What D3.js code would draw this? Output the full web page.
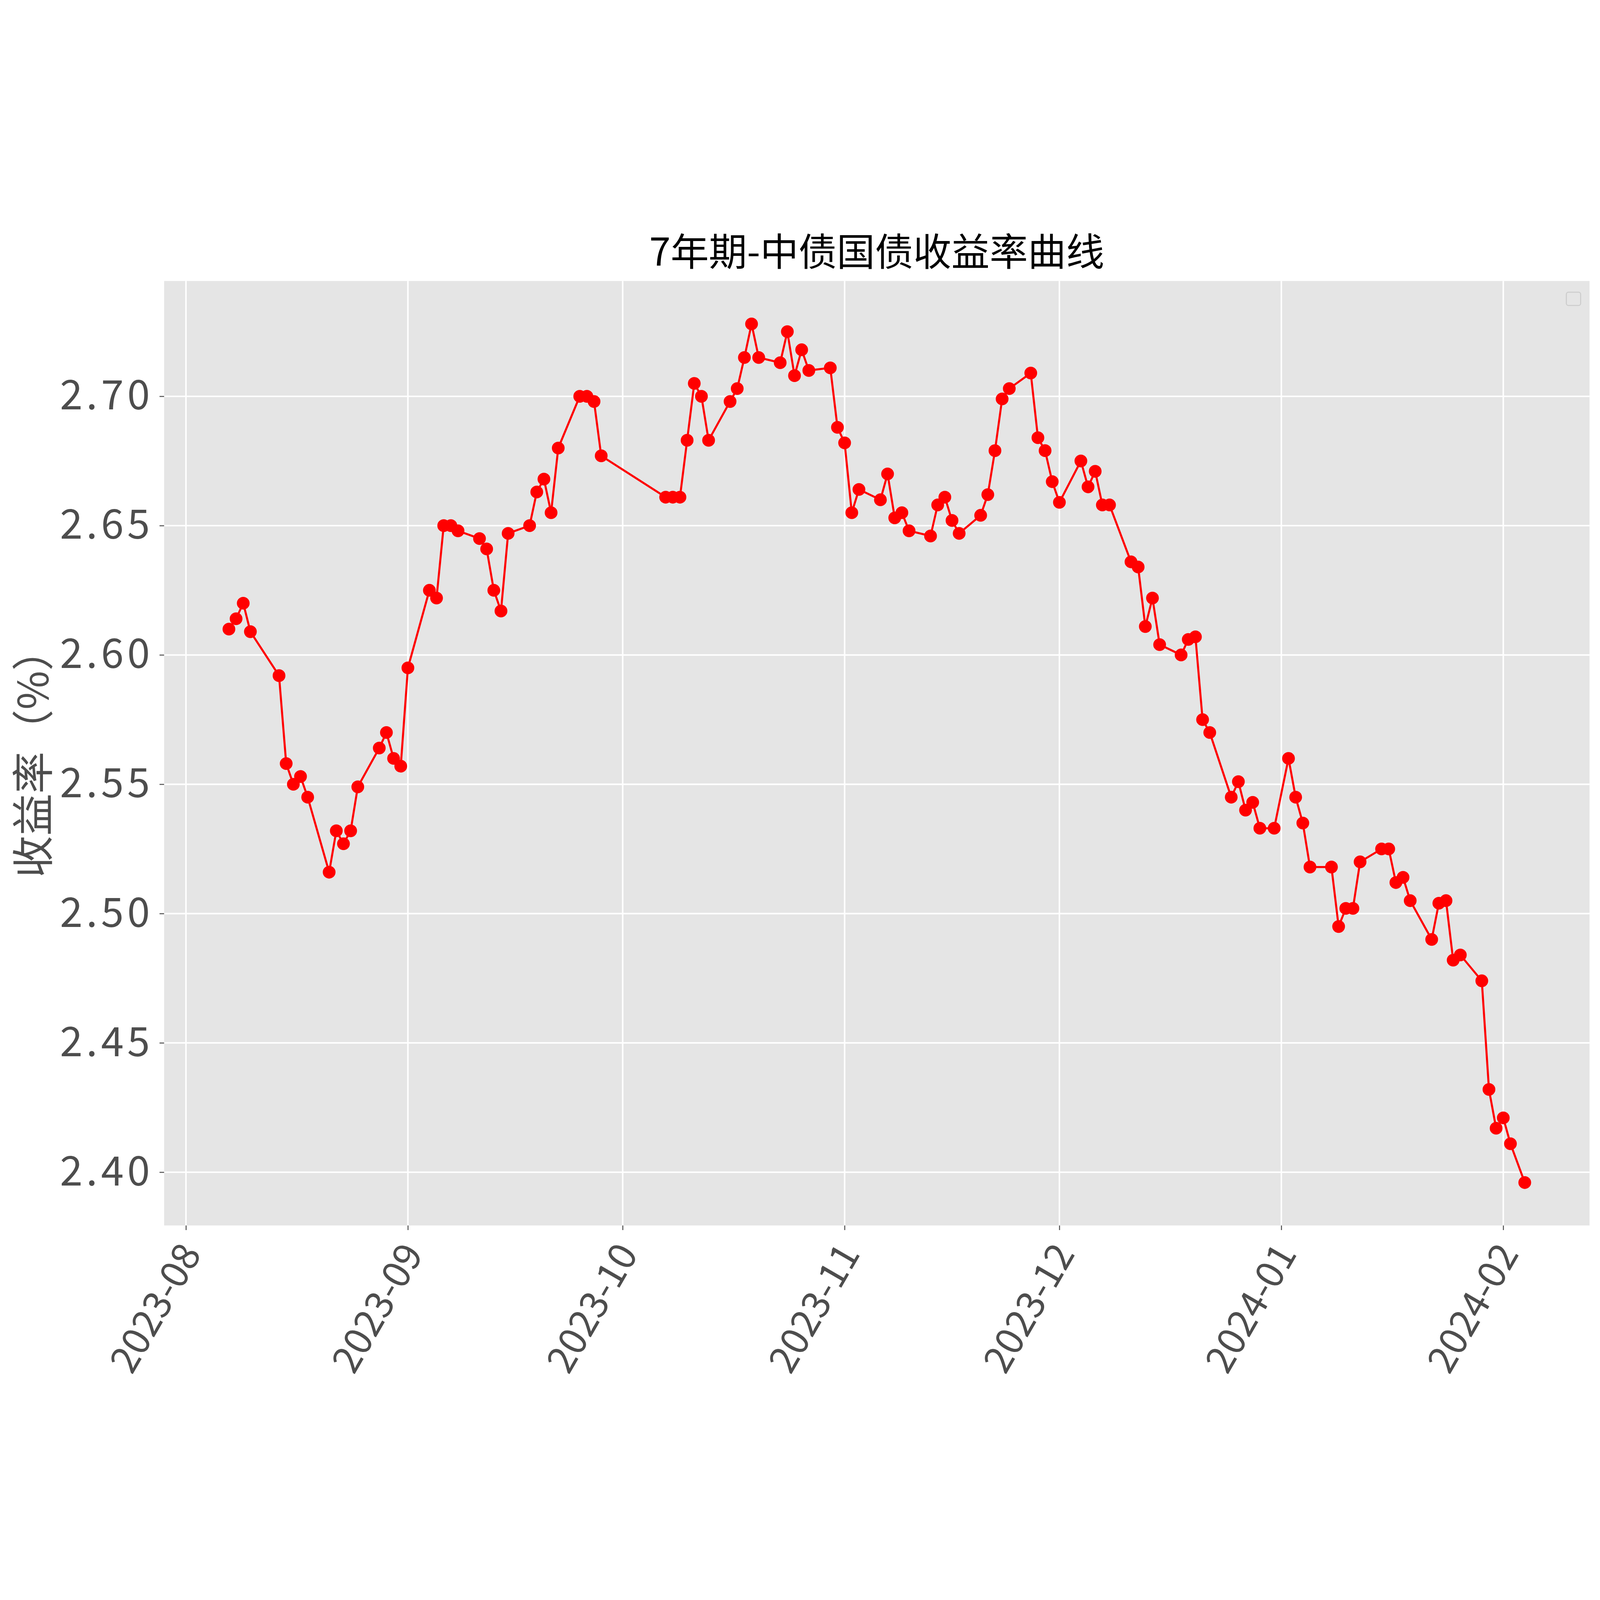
<!DOCTYPE html>
<html><head><meta charset="utf-8">
<script src="https://cdn.jsdelivr.net/npm/d3@7"></script>
<style>html,body{margin:0;padding:0;background:#fff;overflow:hidden}svg{display:block;width:100vw;height:100vh}text{font-family:"Noto Sans CJK SC","DejaVu Sans",sans-serif}</style>
</head><body><svg id="c" viewBox="0 0 6278 4573" preserveAspectRatio="xMidYMid meet"></svg>
<script>
const dates=["2023-08-07","2023-08-08","2023-08-09","2023-08-10","2023-08-14","2023-08-15","2023-08-16","2023-08-17","2023-08-18","2023-08-21","2023-08-22","2023-08-23","2023-08-24","2023-08-25","2023-08-28","2023-08-29","2023-08-30","2023-08-31","2023-09-01","2023-09-04","2023-09-05","2023-09-06","2023-09-07","2023-09-08","2023-09-11","2023-09-12","2023-09-13","2023-09-14","2023-09-15","2023-09-18","2023-09-19","2023-09-20","2023-09-21","2023-09-22","2023-09-25","2023-09-26","2023-09-27","2023-09-28","2023-10-07","2023-10-08","2023-10-09","2023-10-10","2023-10-11","2023-10-12","2023-10-13","2023-10-16","2023-10-17","2023-10-18","2023-10-19","2023-10-20","2023-10-23","2023-10-24","2023-10-25","2023-10-26","2023-10-27","2023-10-30","2023-10-31","2023-11-01","2023-11-02","2023-11-03","2023-11-06","2023-11-07","2023-11-08","2023-11-09","2023-11-10","2023-11-13","2023-11-14","2023-11-15","2023-11-16","2023-11-17","2023-11-20","2023-11-21","2023-11-22","2023-11-23","2023-11-24","2023-11-27","2023-11-28","2023-11-29","2023-11-30","2023-12-01","2023-12-04","2023-12-05","2023-12-06","2023-12-07","2023-12-08","2023-12-11","2023-12-12","2023-12-13","2023-12-14","2023-12-15","2023-12-18","2023-12-19","2023-12-20","2023-12-21","2023-12-22","2023-12-25","2023-12-26","2023-12-27","2023-12-28","2023-12-29","2023-12-31","2024-01-02","2024-01-03","2024-01-04","2024-01-05","2024-01-08","2024-01-09","2024-01-10","2024-01-11","2024-01-12","2024-01-15","2024-01-16","2024-01-17","2024-01-18","2024-01-19","2024-01-22","2024-01-23","2024-01-24","2024-01-25","2024-01-26","2024-01-29","2024-01-30","2024-01-31","2024-02-01","2024-02-02","2024-02-04"];
const yields=[2.610,2.614,2.620,2.609,2.592,2.558,2.550,2.553,2.545,2.516,2.532,2.527,2.532,2.549,2.564,2.570,2.560,2.557,2.595,2.625,2.622,2.650,2.650,2.648,2.645,2.641,2.625,2.617,2.647,2.650,2.663,2.668,2.655,2.680,2.700,2.700,2.698,2.677,2.661,2.661,2.661,2.683,2.705,2.700,2.683,2.698,2.703,2.715,2.728,2.715,2.713,2.725,2.708,2.718,2.710,2.711,2.688,2.682,2.655,2.664,2.660,2.670,2.653,2.655,2.648,2.646,2.658,2.661,2.652,2.647,2.654,2.662,2.679,2.699,2.703,2.709,2.684,2.679,2.667,2.659,2.675,2.665,2.671,2.658,2.658,2.636,2.634,2.611,2.622,2.604,2.600,2.606,2.607,2.575,2.570,2.545,2.551,2.540,2.543,2.533,2.533,2.560,2.545,2.535,2.518,2.518,2.495,2.502,2.502,2.520,2.525,2.525,2.512,2.514,2.505,2.490,2.504,2.505,2.482,2.484,2.474,2.432,2.417,2.421,2.411,2.396];
const xTicks=["2023-08","2023-09","2023-10","2023-11","2023-12","2024-01","2024-02"];
const yTicks=[2.40,2.45,2.50,2.55,2.60,2.65,2.70];
const title="7年期-中债国债收益率曲线", yLabel="收益率（%）";

const parse=d3.timeParse("%Y-%m-%d"), pm=d3.timeParse("%Y-%m");
const data=dates.map((d,i)=>({d:parse(d),v:yields[i]}));
const L=644,T=250,R=6237,B=3956;
const svg=d3.select("#c");
const [d0,d1]=d3.extent(data,d=>d.d), span=d1-d0;
const x=d3.scaleTime().domain([new Date(+d0-0.05*span),new Date(+d1+0.05*span)]).range([L,R]);
const [v0,v1]=d3.extent(yields), vs=v1-v0;
const y=d3.scaleLinear().domain([v0-0.05*vs,v1+0.05*vs]).range([B,T]);
svg.append("rect").attr("x",L).attr("y",T).attr("width",R-L).attr("height",B-T).attr("fill","#E5E5E5");
const g=svg.append("g");
xTicks.forEach(t=>g.append("line").attr("x1",x(pm(t))).attr("x2",x(pm(t))).attr("y1",T).attr("y2",B).attr("stroke","#fff").attr("stroke-width",6));
yTicks.forEach(t=>g.append("line").attr("y1",y(t)).attr("y2",y(t)).attr("x1",L).attr("x2",R).attr("stroke","#fff").attr("stroke-width",6));
const xa=svg.append("g").attr("transform",`translate(0,${B})`).call(d3.axisBottom(x).tickValues(xTicks.map(pm)).tickFormat(d3.timeFormat("%Y-%m")).tickSize(18).tickPadding(20));
xa.select(".domain").remove();
xa.selectAll("line").attr("stroke","#555").attr("stroke-width",4);
xa.selectAll("text").attr("font-size",150).attr("fill","#4d4d4d").attr("text-anchor","end").attr("dy","0.35em")
  .attr("transform","translate(0,40) rotate(-60)").attr("dx","-0.2em");
const ya=svg.append("g").attr("transform",`translate(${L},0)`).call(d3.axisLeft(y).tickValues(yTicks).tickFormat(d3.format(".2f")).tickSize(18).tickPadding(24));
ya.select(".domain").remove();
ya.selectAll("line").attr("stroke","#555").attr("stroke-width",4);
ya.selectAll("text").attr("font-size",160).attr("fill","#4d4d4d").attr("letter-spacing",14);
svg.append("path").datum(data).attr("d",d3.line().x(d=>x(d.d)).y(d=>y(d.v))).attr("fill","none").attr("stroke","#ff0000").attr("stroke-width",8);
svg.selectAll("circle.p").data(data).enter().append("circle").attr("cx",d=>x(d.d)).attr("cy",d=>y(d.v)).attr("r",25).attr("fill","#ff0000");
svg.append("text").attr("x",(L+R)/2).attr("y",190).attr("text-anchor","middle").attr("font-size",150).attr("fill","#000").text(title);
svg.append("text").attr("transform",`translate(190,${(T+B)/2}) rotate(-90)`).attr("text-anchor","middle").attr("font-size",165).attr("fill","#4d4d4d").text(yLabel);
svg.append("rect").attr("x",6146).attr("y",294).attr("width",56).attr("height",52).attr("rx",8).attr("fill","#E5E5E5").attr("stroke","#ccc").attr("stroke-width",4);
</script></body></html>
